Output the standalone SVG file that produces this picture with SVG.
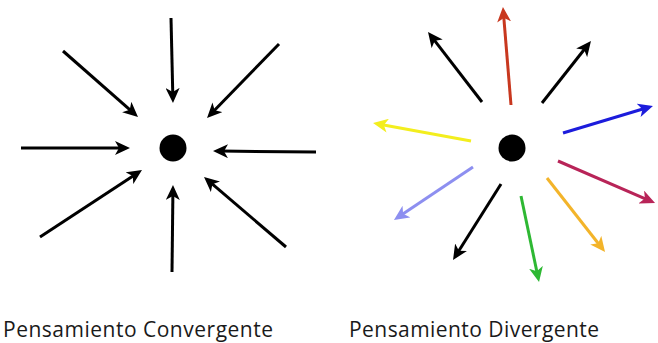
<svg xmlns="http://www.w3.org/2000/svg" width="658" height="343" viewBox="0 0 658 343">
<style>
.a{fill:none;stroke-width:3;stroke-linecap:butt}
.lbl{font-family:"Open Sans","Liberation Sans",sans-serif;font-size:21px;fill:#1a1a1a}
</style>
<defs>
<marker id="mk" viewBox="0 0 15 14" markerUnits="userSpaceOnUse" markerWidth="15" markerHeight="14" refX="7" refY="7" orient="auto"><path d="M0,0 L15,7 L0,14 L4,7 z" fill="#000"/></marker>
<marker id="mr" viewBox="0 0 15 14" markerUnits="userSpaceOnUse" markerWidth="15" markerHeight="14" refX="7" refY="7" orient="auto"><path d="M0,0 L15,7 L0,14 L4,7 z" fill="#c8381f"/></marker>
<marker id="mb" viewBox="0 0 15 14" markerUnits="userSpaceOnUse" markerWidth="15" markerHeight="14" refX="7" refY="7" orient="auto"><path d="M0,0 L15,7 L0,14 L4,7 z" fill="#1c1cdc"/></marker>
<marker id="my" viewBox="0 0 15 14" markerUnits="userSpaceOnUse" markerWidth="15" markerHeight="14" refX="7" refY="7" orient="auto"><path d="M0,0 L15,7 L0,14 L4,7 z" fill="#f3ee1e"/></marker>
<marker id="mc" viewBox="0 0 15 14" markerUnits="userSpaceOnUse" markerWidth="15" markerHeight="14" refX="7" refY="7" orient="auto"><path d="M0,0 L15,7 L0,14 L4,7 z" fill="#b82458"/></marker>
<marker id="ml" viewBox="0 0 15 14" markerUnits="userSpaceOnUse" markerWidth="15" markerHeight="14" refX="7" refY="7" orient="auto"><path d="M0,0 L15,7 L0,14 L4,7 z" fill="#8d8ff0"/></marker>
<marker id="mg" viewBox="0 0 15 14" markerUnits="userSpaceOnUse" markerWidth="15" markerHeight="14" refX="7" refY="7" orient="auto"><path d="M0,0 L15,7 L0,14 L4,7 z" fill="#2eb833"/></marker>
<marker id="mo" viewBox="0 0 15 14" markerUnits="userSpaceOnUse" markerWidth="15" markerHeight="14" refX="7" refY="7" orient="auto"><path d="M0,0 L15,7 L0,14 L4,7 z" fill="#f3b42a"/></marker>
</defs>
<g id="convergent-center"><circle cx="173" cy="148" r="13.5" fill="#000"/></g>
<g id="divergent-center"><circle cx="512" cy="148" r="13.5" fill="#000"/></g>
<g id="connectors">
<line class="a" stroke="#000" marker-end="url(#mk)" x1="171" y1="18" x2="172.8" y2="95"/>
<line class="a" stroke="#000" marker-end="url(#mk)" x1="63" y1="51" x2="132" y2="111.7"/>
<line class="a" stroke="#000" marker-end="url(#mk)" x1="279" y1="44" x2="212.6" y2="112.3"/>
<line class="a" stroke="#000" marker-end="url(#mk)" x1="21" y1="148" x2="122" y2="148"/>
<line class="a" stroke="#000" marker-end="url(#mk)" x1="316" y1="152" x2="221" y2="151.1"/>
<line class="a" stroke="#000" marker-end="url(#mk)" x1="40" y1="237" x2="135.3" y2="174.4"/>
<line class="a" stroke="#000" marker-end="url(#mk)" x1="172" y1="272" x2="172.9" y2="193"/>
<line class="a" stroke="#000" marker-end="url(#mk)" x1="286" y1="247" x2="210.1" y2="182.2"/>

<line class="a" stroke="#c8381f" marker-end="url(#mr)" x1="511" y1="105" x2="503.6" y2="15"/>
<line class="a" stroke="#000" marker-end="url(#mk)" x1="482" y1="102" x2="432.9" y2="38.3"/>
<line class="a" stroke="#000" marker-end="url(#mk)" x1="542" y1="103" x2="586" y2="47.3"/>
<line class="a" stroke="#1c1cdc" marker-end="url(#mb)" x1="563" y1="133" x2="645.3" y2="108.3"/>
<line class="a" stroke="#f3ee1e" marker-end="url(#my)" x1="471" y1="141" x2="380.9" y2="124.4"/>
<line class="a" stroke="#b82458" marker-end="url(#mc)" x1="558" y1="161" x2="647.7" y2="199.8"/>
<line class="a" stroke="#8d8ff0" marker-end="url(#ml)" x1="473" y1="167" x2="400.6" y2="215.5"/>
<line class="a" stroke="#000" marker-end="url(#mk)" x1="501" y1="184" x2="457.3" y2="253.2"/>
<line class="a" stroke="#2eb833" marker-end="url(#mg)" x1="521" y1="196" x2="537.4" y2="274.2"/>
<line class="a" stroke="#f3b42a" marker-end="url(#mo)" x1="547" y1="178" x2="600.1" y2="245.7"/>
</g>
<g id="labels">
<text class="lbl" x="3" y="337" textLength="270" lengthAdjust="spacing">Pensamiento Convergente</text>
<text class="lbl" x="349" y="337" textLength="250" lengthAdjust="spacing">Pensamiento Divergente</text>
</g>
</svg>
